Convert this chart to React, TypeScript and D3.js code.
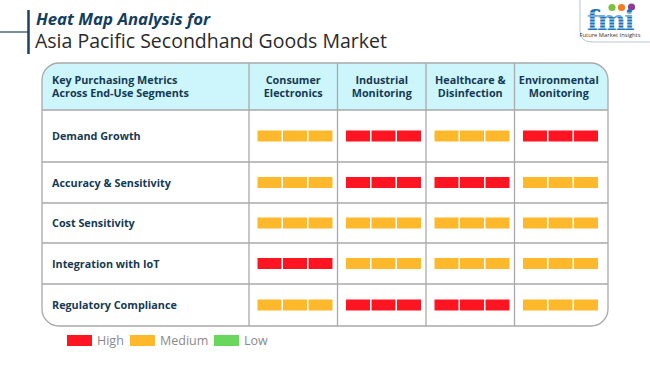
import React from "react";
import * as d3 from "d3";

// data
const segments = ["Consumer Electronics", "Industrial Monitoring", "Healthcare & Disinfection", "Environmental Monitoring"];
const segmentLines = [["Consumer", "Electronics"], ["Industrial", "Monitoring"], ["Healthcare &", "Disinfection"], ["Environmental", "Monitoring"]];
const metrics = ["Demand Growth", "Accuracy & Sensitivity", "Cost Sensitivity", "Integration with IoT", "Regulatory Compliance"];
const demandGrowth = ["Medium", "High", "Medium", "High"];
const accuracySensitivity = ["Medium", "High", "High", "Medium"];
const costSensitivity = ["Medium", "Medium", "Medium", "Medium"];
const integrationIoT = ["High", "Medium", "Medium", "Medium"];
const regulatoryCompliance = ["Medium", "High", "High", "Medium"];
const levels = ["High", "Medium", "Low"];

const ratings = [demandGrowth, accuracySensitivity, costSensitivity, integrationIoT, regulatoryCompliance];

const color = d3.scaleOrdinal<string, string>().domain(levels).range(["#ff1521", "#fdb92b", "#68d75c"]);

const FONT = "'Open Sans', 'Noto Sans', sans-serif";
const NAVY = "#153a55";

// table layout
const left = 42, right = 608, top = 63, headBottom = 110;
const rowEdges = [110, 162, 203, 243, 284, 326];
const firstColRight = 249;
const radius = 17;

const x = d3.scaleBand<string>().domain(segments).range([firstColRight, right - 5]);
const seg = d3.scaleBand<number>().domain([0, 1, 2]).range([0, 75]).paddingInner(0.06);

const tablePath = () => {
  const p = d3.path();
  p.moveTo(left + radius, top);
  p.lineTo(right - radius, top);
  p.arcTo(right, top, right, top + radius, radius);
  p.lineTo(right, rowEdges[5] - radius);
  p.arcTo(right, rowEdges[5], right - radius, rowEdges[5], radius);
  p.lineTo(left + radius, rowEdges[5]);
  p.arcTo(left, rowEdges[5], left, rowEdges[5] - radius, radius);
  p.lineTo(left, top + radius);
  p.arcTo(left, top, left + radius, top, radius);
  p.closePath();
  return p.toString();
};

const headPath = () => {
  const p = d3.path();
  p.moveTo(left, headBottom);
  p.lineTo(left, top + radius);
  p.arcTo(left, top, left + radius, top, radius);
  p.lineTo(right - radius, top);
  p.arcTo(right, top, right, top + radius, radius);
  p.lineTo(right, headBottom);
  p.closePath();
  return p.toString();
};

const Logo = () => (
  <g>
    <path d="M580,0 L580,30 Q580,42 592,42 L650,42" fill="none" stroke="#b9c6d3" strokeWidth={1} />
    <circle cx={612} cy={7.5} r={3.6} fill="#7ac143" />
    <circle cx={621.5} cy={7.5} r={3.6} fill="#f47b20" />
    <circle cx={631.5} cy={7} r={3.6} fill="#8e3b97" />
    <text x={610} y={30} textAnchor="middle" fontFamily="'DejaVu Serif', serif" fontWeight={700} fontSize={27} fill="#1b75bb" letterSpacing={-1.5}>fmi</text>
    {[13, 16, 19, 22, 25, 28].map(yy => (
      <line key={yy} x1={584} x2={638} y1={yy} y2={yy} stroke="#ffffff" strokeWidth={0.8} />
    ))}
    <text x={610} y={37} textAnchor="middle" fontFamily={FONT} fontSize={5.8} fill="#333">Future Market Insights</text>
  </g>
);

export default function App() {
  return (
    <svg width={650} height={365} style={{ position: "absolute", left: 0, top: 0, background: "#fff" }}>
      {/* title */}
      <line x1={0} x2={28} y1={32} y2={32} stroke="#1a4260" strokeWidth={1.2} />
      <line x1={28.5} x2={28.5} y1={10} y2={54} stroke="#1a4260" strokeWidth={2.5} />
      <text x={36} y={25} fontFamily={FONT} fontStyle="italic" fontWeight={700} fontSize={16.8} fill="#143e5e">Heat Map Analysis for</text>
      <text x={35} y={48} fontFamily={FONT} fontSize={19.5} fill="#2b2b2b">Asia Pacific Secondhand Goods Market</text>
      <Logo />

      {/* table */}
      <path d={tablePath()} fill="#fff" />
      <path d={headPath()} fill="#cdf6fc" />
      {rowEdges.slice(0, 5).map(yy => (
        <line key={yy} x1={left} x2={right} y1={yy} y2={yy} stroke="#a9a9a9" strokeWidth={1.3} />
      ))}
      {[firstColRight, ...segments.slice(1).map(s => x(s)!)].map(xx => (
        <line key={xx} x1={xx} x2={xx} y1={top} y2={rowEdges[5]} stroke="#a9a9a9" strokeWidth={1.3} />
      ))}
      <path d={tablePath()} fill="none" stroke="#a9a9a9" strokeWidth={1.3} />

      <text fontFamily={FONT} fontWeight={700} fontSize={10.8} fill={NAVY}>
        <tspan x={52} y={84}>Key Purchasing Metrics</tspan>
        <tspan x={52} y={97}>Across End-Use Segments</tspan>
      </text>
      {segments.map((s, i) => (
        <text key={s} textAnchor="middle" fontFamily={FONT} fontWeight={700} fontSize={10.8} fill={NAVY}>
          <tspan x={x(s)! + x.bandwidth() / 2} y={84}>{segmentLines[i][0]}</tspan>
          <tspan x={x(s)! + x.bandwidth() / 2} y={97}>{segmentLines[i][1]}</tspan>
        </text>
      ))}

      {metrics.map((m, r) => {
        const cy = (rowEdges[r] + rowEdges[r + 1]) / 2;
        return (
          <g key={m}>
            <text x={52} y={cy + 4} fontFamily={FONT} fontWeight={700} fontSize={10.8} fill={NAVY}>{m}</text>
            {segments.map((s, c) => (
              <g key={s} transform={`translate(${x(s)! + 8.5},${cy - 5.5})`}>
                {seg.domain().map(k => (
                  <rect key={k} x={seg(k)} y={0} width={seg.bandwidth()} height={11} fill={color(ratings[r][c])} />
                ))}
              </g>
            ))}
          </g>
        );
      })}

      {/* legend */}
      {levels.map((l, i) => {
        const lx = [67, 130, 214][i];
        return (
          <g key={l}>
            <rect x={lx} y={335} width={25} height={11} fill={color(l)} />
            <text x={lx + 30} y={345} fontFamily={FONT} fontSize={12.5} fill="#8a8a8a">{l}</text>
          </g>
        );
      })}
    </svg>
  );
}
